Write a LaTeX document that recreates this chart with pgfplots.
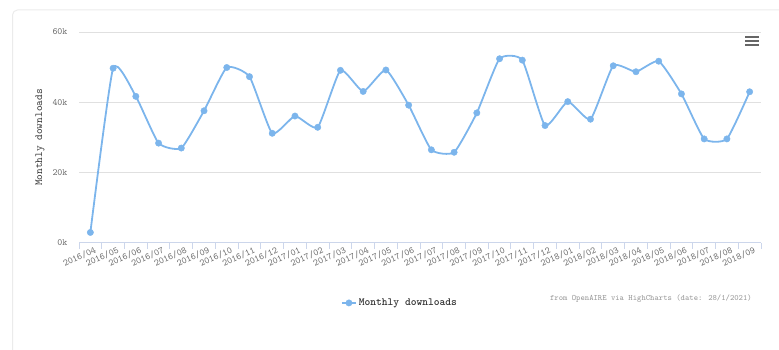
\documentclass[border=0pt]{standalone}
\usepackage{pgfplots}
\pgfplotsset{compat=1.18}
\usepackage{fontspec}
\newfontfamily\ttbold{lmmonolt10-bold.otf}
\definecolor{hcblue}{HTML}{7CB5EC}
\definecolor{gridc}{HTML}{E0E0E0}
\definecolor{axisc}{HTML}{CCD6EB}
\definecolor{labc}{HTML}{666666}
\definecolor{darkc}{HTML}{333333}
\definecolor{credc}{HTML}{999999}
\definecolor{framec}{HTML}{EBEBEB}
\begin{document}
\begin{tikzpicture}
\path[use as bounding box] (0pt,0pt) rectangle (779pt,350pt);
\draw[framec, line width=1pt, rounded corners=5pt] (12.5pt,-20pt) -- (12.5pt,340pt) -- (800pt,340pt);
\begin{axis}[
  at={(79pt,107pt)}, anchor=south west,
  scale only axis, width=682pt, height=211pt,
  xmin=-0.5, xmax=29.5, ymin=0, ymax=60000,
  axis x line*=bottom, axis y line*=left,
  y axis line style={draw=none},
  x axis line style={axisc, line width=1pt},
  ytick={0,20000,40000,60000},
  yticklabels={0k,20k,40k,60k},
  scaled y ticks=false,
  ytick style={draw=none},
  ymajorgrids, grid style={gridc, line width=1pt},
  xtick={0,...,29},
  xticklabels={2016/04,2016/05,2016/06,2016/07,2016/08,2016/09,2016/10,2016/11,2016/12,2017/01,2017/02,2017/03,2017/04,2017/05,2017/06,2017/07,2017/08,2017/09,2017/10,2017/11,2017/12,2018/01,2018/02,2018/03,2018/04,2018/05,2018/06,2018/07,2018/08,2018/09},
  minor xtick={-0.5,0.5,...,29.5},
  major tick length=0pt,
  minor tick length=6pt,
  tick align=outside,
  xtick style={axisc, line width=1pt},
  minor x tick style={axisc, line width=1pt},
  /pgf/number format/assume math mode=true,
  tick label style={font=\ttfamily\fontsize{9.5}{10}\selectfont, text=labc},
  xticklabel style={rotate=25, anchor=north east, inner sep=1pt, yshift=-3pt, xshift=3pt},
  yticklabel style={anchor=east, xshift=-8pt},
  ylabel={Monthly downloads},
  ylabel style={at={(axis description cs:-0.057,0.5)}, anchor=center, font=\ttfamily\fontsize{10.8}{11}\selectfont, text=darkc},
  legend style={draw=none, fill=none, at={(axis description cs:0.4707,-0.284)}, anchor=center, font=\ttbold\fontsize{11}{11}\selectfont, text=darkc, inner sep=0pt},
  legend image code/.code={\draw[mark repeat=2,mark phase=2,#1] plot coordinates {(0pt,0pt)(7pt,0pt)(14pt,0pt)};},
  clip=false,
]
\addplot[hcblue, line width=1.8pt, smooth, tension=0.3, mark=*, mark size=3.2pt, mark options={solid, fill=hcblue, draw=hcblue, line width=0.4pt}] coordinates {
(0,3000) (1,49700) (2,41700) (3,28400) (4,27000) (5,37600) (6,49900) (7,47300) (8,31200)
(9,36100) (10,32900) (11,49100) (12,43100) (13,49200) (14,39200) (15,26500) (16,25800) (17,37000) (18,52400) (19,52000) (20,33400)
(21,40200) (22,35200) (23,50400) (24,48700) (25,51700) (26,42400) (27,29600) (28,29600) (29,43000)
};
\addlegendentry{Monthly downloads}
\end{axis}
\node[anchor=east, font=\ttfamily\fontsize{8.2}{9}\selectfont, text=credc, inner sep=0pt] at (752pt,51pt) {from OpenAIRE via HighCharts (date: 28/1/2021)};
\foreach \yy in {305,309,313} {\draw[labc, line width=1.6pt] (745pt,\yy pt) -- (759pt,\yy pt);}
\end{tikzpicture}
\end{document}
